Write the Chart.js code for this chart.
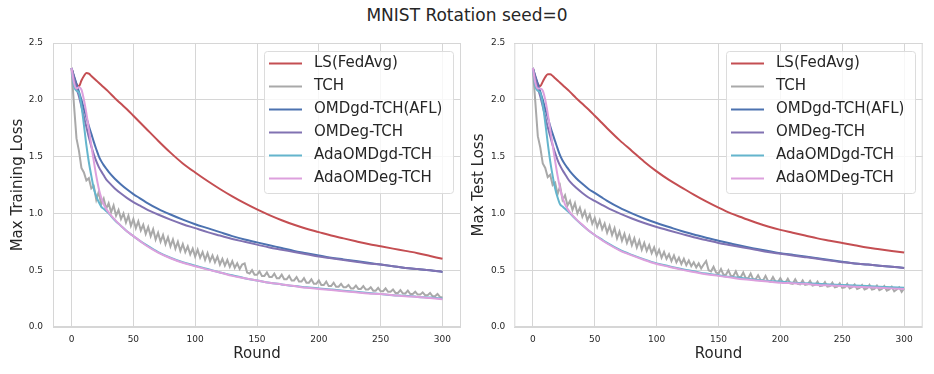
<!DOCTYPE html>
<html>
<head>
<meta charset="utf-8">
<script src="https://cdn.jsdelivr.net/npm/chart.js@4.4.0/dist/chart.umd.min.js"></script>
<style>
  body { margin: 0; background: #fff; width: 934px; height: 374px; overflow: hidden; position: relative; font-family: 'DejaVu Sans', sans-serif; }
  #title { position: absolute; left: 0; top: 5px; width: 934px; text-align: center; font-size: 17px; color: #262626; }
  .box { position: absolute; top: 0; width: 467px; height: 374px; }
</style>
</head>
<body>
<div id="title">MNIST Rotation seed=0</div>
<div class="box" style="left:0"><canvas id="trainChart" width="467" height="374"></canvas></div>
<div class="box" style="left:467px"><canvas id="testChart" width="467" height="374"></canvas></div>
<script>
const names = ['LS(FedAvg)', 'TCH', 'OMDgd-TCH(AFL)', 'OMDeg-TCH', 'AdaOMDgd-TCH', 'AdaOMDeg-TCH'];
const colors = ['#c44e52', '#a9a9a9', '#4c72b0', '#8172b2', '#64b5cd', '#dda0dd'];
const xTicks = [0, 50, 100, 150, 200, 250, 300];
const yTicks = [0, 0.5, 1.0, 1.5, 2.0, 2.5];

// rounds for the smooth curves
const rounds = [0,2,4,6,8,10,12,14,16,18,20,22,24,26,28,30,35,40,45,50,55,60,
  70,80,90,100,110,120,130,140,150,160,170,180,190,200,210,220,230,240,250,260,270,280,290,300];
// TCH is noisy, read every 2nd round
const tchRounds = Array.from({length: 151}, (_, i) => i * 2);

// ---- training loss ----
const lsTrain = [2.28,2.20,2.14,2.12,2.17,2.21,2.235,2.23,2.21,2.19,2.17,2.15,2.13,2.11,2.09,2.07,
  2.015,1.965,1.915,1.86,1.805,1.75,
  1.64,1.535,1.44,1.36,1.285,1.215,1.15,1.09,1.035,0.985,0.94,0.90,0.865,0.835,0.805,0.78,0.755,0.73,0.71,0.69,0.67,0.65,0.625,0.60];
const omdgdTrain = [2.28,2.21,2.14,2.07,2.00,1.92,1.845,1.77,1.70,1.63,1.565,1.505,1.46,1.425,1.395,1.365,
  1.305,1.255,1.21,1.17,1.135,1.10,
  1.04,0.99,0.945,0.905,0.87,0.835,0.80,0.77,0.745,0.72,0.695,0.67,0.65,0.63,0.61,0.595,0.58,0.565,0.55,0.535,0.52,0.51,0.50,0.485];
const omdegTrain = [2.28,2.19,2.10,2.03,1.94,1.85,1.76,1.67,1.59,1.52,1.46,1.41,1.37,1.335,1.30,1.275,
  1.22,1.175,1.135,1.10,1.07,1.04,
  0.99,0.945,0.905,0.87,0.835,0.805,0.775,0.75,0.725,0.70,0.68,0.66,0.64,0.62,0.605,0.59,0.575,0.56,0.55,0.535,0.52,0.51,0.50,0.485];
const adaGdTrain = [2.28,2.12,2.08,2.06,1.95,1.78,1.60,1.45,1.33,1.22,1.15,1.10,1.06,1.04,1.02,1.00,
  0.94,0.89,0.84,0.80,0.76,0.725,
  0.66,0.61,0.57,0.54,0.51,0.48,0.455,0.43,0.41,0.39,0.375,0.36,0.35,0.34,0.33,0.32,0.31,0.30,0.29,0.28,0.275,0.265,0.26,0.25];
const adaEgTrain = [2.28,2.15,2.10,2.11,2.09,2.00,1.88,1.74,1.60,1.46,1.33,1.22,1.14,1.08,1.04,1.01,
  0.945,0.89,0.84,0.80,0.76,0.72,
  0.655,0.605,0.565,0.535,0.505,0.48,0.45,0.43,0.41,0.39,0.375,0.36,0.345,0.335,0.325,0.315,0.305,0.295,0.29,0.28,0.27,0.265,0.255,0.245];
const tchTrain = [
  2.27,1.95,1.66,1.55,1.40,1.36,1.29,1.31,1.22,1.24,
  1.12,1.19,1.08,1.13,1.04,1.09,1.01,1.07,0.98,1.03,
  0.95,1.00,0.92,0.98,0.89,0.95,0.87,0.93,0.85,0.90,
  0.82,0.88,0.80,0.86,0.77,0.83,0.75,0.81,0.73,0.79,
  0.71,0.77,0.69,0.75,0.67,0.73,0.66,0.71,0.64,0.69,
  0.62,0.68,0.61,0.66,0.59,0.65,0.58,0.63,0.57,0.62,
  0.55,0.60,0.54,0.59,0.53,0.58,0.52,0.56,0.51,0.55,
  0.56,0.48,0.47,0.50,0.46,0.46,0.49,0.45,0.45,0.48,
  0.44,0.44,0.47,0.43,0.43,0.46,0.42,0.42,0.45,0.41,
  0.41,0.44,0.40,0.40,0.43,0.39,0.39,0.42,0.38,0.38,
  0.41,0.37,0.37,0.40,0.36,0.36,0.39,0.355,0.355,0.38,
  0.35,0.35,0.37,0.34,0.34,0.365,0.335,0.335,0.36,0.33,
  0.33,0.35,0.32,0.32,0.345,0.315,0.315,0.34,0.31,0.31,
  0.33,0.30,0.30,0.325,0.295,0.295,0.32,0.29,0.29,0.31,
  0.285,0.285,0.305,0.28,0.28,0.30,0.27,0.27,0.29,0.265,
  0.26];

// ---- test loss ----
const lsTest = [2.28,2.20,2.14,2.12,2.16,2.20,2.225,2.225,2.21,2.19,2.17,2.15,2.13,2.11,2.09,2.07,
  2.015,1.965,1.915,1.86,1.805,1.75,
  1.645,1.55,1.455,1.37,1.295,1.23,1.165,1.105,1.05,1.00,0.96,0.92,0.885,0.855,0.83,0.805,0.78,0.76,0.74,0.72,0.70,0.685,0.67,0.655];
const omdgdTest = [2.28,2.21,2.14,2.07,2.00,1.92,1.845,1.77,1.70,1.635,1.57,1.51,1.465,1.43,1.40,1.37,
  1.31,1.26,1.215,1.18,1.145,1.11,
  1.05,1.00,0.955,0.915,0.88,0.845,0.815,0.785,0.76,0.735,0.71,0.69,0.67,0.65,0.635,0.62,0.605,0.59,0.575,0.56,0.55,0.54,0.53,0.52];
const omdegTest = [2.28,2.19,2.10,2.03,1.94,1.85,1.76,1.68,1.60,1.53,1.47,1.42,1.38,1.345,1.31,1.28,
  1.225,1.18,1.14,1.11,1.08,1.05,
  1.00,0.955,0.915,0.88,0.85,0.82,0.79,0.765,0.74,0.72,0.70,0.68,0.66,0.645,0.63,0.615,0.60,0.585,0.57,0.56,0.55,0.54,0.53,0.52];
const adaGdTest = [2.28,2.12,2.08,2.06,1.96,1.80,1.62,1.46,1.33,1.22,1.14,1.08,1.06,1.04,1.02,1.00,
  0.945,0.895,0.85,0.81,0.775,0.74,
  0.68,0.635,0.595,0.56,0.535,0.51,0.49,0.47,0.455,0.44,0.43,0.415,0.405,0.40,0.39,0.385,0.38,0.375,0.37,0.365,0.36,0.355,0.35,0.345];
const adaEgTest = [2.28,2.15,2.10,2.10,2.08,2.00,1.88,1.74,1.60,1.46,1.33,1.22,1.14,1.08,1.04,1.01,
  0.95,0.90,0.85,0.81,0.77,0.735,
  0.675,0.63,0.59,0.555,0.53,0.505,0.485,0.465,0.45,0.435,0.42,0.41,0.40,0.39,0.385,0.38,0.37,0.365,0.36,0.355,0.35,0.345,0.34,0.335];
const tchTest = [
  2.27,1.98,1.68,1.58,1.44,1.40,1.32,1.34,1.25,1.27,
  1.17,1.24,1.12,1.16,1.07,1.11,1.03,1.09,1.00,1.05,
  0.97,1.02,0.94,0.99,0.91,0.96,0.88,0.94,0.86,0.91,
  0.83,0.89,0.81,0.87,0.78,0.84,0.76,0.82,0.74,0.80,
  0.72,0.78,0.70,0.76,0.68,0.74,0.67,0.72,0.65,0.70,
  0.63,0.68,0.61,0.66,0.60,0.64,0.58,0.63,0.57,0.61,
  0.555,0.60,0.545,0.585,0.535,0.57,0.525,0.56,0.515,0.55,
  0.58,0.50,0.49,0.53,0.48,0.47,0.51,0.46,0.46,0.50,
  0.45,0.45,0.49,0.44,0.44,0.48,0.43,0.43,0.47,0.42,
  0.42,0.455,0.415,0.41,0.45,0.405,0.40,0.44,0.40,0.395,
  0.43,0.39,0.39,0.425,0.385,0.38,0.42,0.38,0.375,0.41,
  0.37,0.375,0.405,0.365,0.37,0.40,0.36,0.365,0.395,0.355,
  0.36,0.39,0.35,0.355,0.385,0.345,0.35,0.38,0.34,0.35,
  0.375,0.335,0.345,0.37,0.33,0.34,0.37,0.33,0.335,0.365,
  0.325,0.335,0.36,0.32,0.33,0.355,0.315,0.33,0.35,0.31,
  0.34];

const FONT = 'DejaVu Sans';
const TEXT = '#262626';
const GRID = '#d6d6d6';

function pts(xs, ys) {
  return xs.map((x, i) => ({x: x, y: ys[i]}));
}

// frame + legend box inside the axes, top right
const boxLegend = {
  id: 'boxLegend',
  afterDraw(chart) {
    const ctx = chart.ctx, a = chart.chartArea;
    ctx.save();
    ctx.strokeStyle = GRID;
    ctx.lineWidth = 1;
    ctx.strokeRect(a.left + 0.5, a.top + 0.5, a.right - a.left - 1, a.bottom - a.top - 1);

    const w = 189, h = 142;
    const x = Math.round(a.right - 8 - w), y = Math.round(a.top + 8);
    ctx.beginPath();
    ctx.roundRect(x + 0.5, y + 0.5, w, h, 3);
    ctx.fillStyle = 'rgba(255,255,255,0.8)';
    ctx.fill();
    ctx.strokeStyle = '#dcdcdc';
    ctx.stroke();

    ctx.font = '15px "' + FONT + '"';
    ctx.textBaseline = 'middle';
    chart.data.datasets.forEach((ds, i) => {
      const cy = y + 12.5 + 23 * i;
      ctx.strokeStyle = ds.borderColor;
      ctx.lineWidth = 2;
      ctx.beginPath();
      ctx.moveTo(x + 5, cy);
      ctx.lineTo(x + 38, cy);
      ctx.stroke();
      ctx.fillStyle = TEXT;
      ctx.fillText(ds.label, x + 50, cy);
    });
    ctx.restore();
  }
};

function makeChart(id, yTitle, series, tch, lay) {
  const datasets = series.map((s, i) => ({
    label: names[i],
    data: i === 1 ? pts(tchRounds, tch) : pts(rounds, s),
    borderColor: colors[i],
    backgroundColor: colors[i],
    borderWidth: 2,
    pointRadius: 0,
    fill: false,
    tension: 0,
    cubicInterpolationMode: i === 1 ? 'default' : 'monotone',
    order: names.length - i
  }));

  return new Chart(document.getElementById(id), {
    type: 'line',
    data: { datasets: datasets },
    options: {
      responsive: false,
      animation: false,
      layout: { padding: { top: 43, right: lay.right, left: 0, bottom: 0 } },
      plugins: { legend: { display: false }, tooltip: { enabled: false } },
      scales: {
        x: {
          type: 'linear', min: -15, max: 315,
          afterBuildTicks: s => { s.ticks = xTicks.map(v => ({ value: v })); },
          afterFit: s => { s.height = 47; },
          grid: { color: GRID, drawTicks: false },
          border: { display: false },
          ticks: { font: { family: FONT, size: 9 }, color: TEXT, padding: 7, maxRotation: 0 },
          title: { display: true, text: 'Round', color: TEXT, font: { family: FONT, size: 15 }, padding: { top: 0, bottom: 11 } }
        },
        y: {
          type: 'linear', min: 0, max: 2.5,
          afterBuildTicks: s => { s.ticks = yTicks.map(v => ({ value: v })); },
          afterFit: s => { s.width = lay.yWidth; },
          grid: { color: GRID, drawTicks: false },
          border: { display: false },
          ticks: { font: { family: FONT, size: 9 }, color: TEXT, padding: lay.tickPad, callback: v => v.toFixed(1) },
          title: { display: true, text: yTitle, color: TEXT, font: { family: FONT, size: 15 }, padding: { top: lay.titlePad, bottom: 0 } }
        }
      }
    },
    plugins: [boxLegend]
  });
}

makeChart('trainChart', 'Max Training Loss',
  [lsTrain, null, omdgdTrain, omdegTrain, adaGdTrain, adaEgTrain], tchTrain,
  { right: 6, yWidth: 53, tickPad: 10, titlePad: 9.5 });
makeChart('testChart', 'Max Test Loss',
  [lsTest, null, omdgdTest, omdegTest, adaGdTest, adaEgTest], tchTest,
  { right: 11.3, yWidth: 47.3, tickPad: 9, titlePad: 3 });
</script>
</body>
</html>
